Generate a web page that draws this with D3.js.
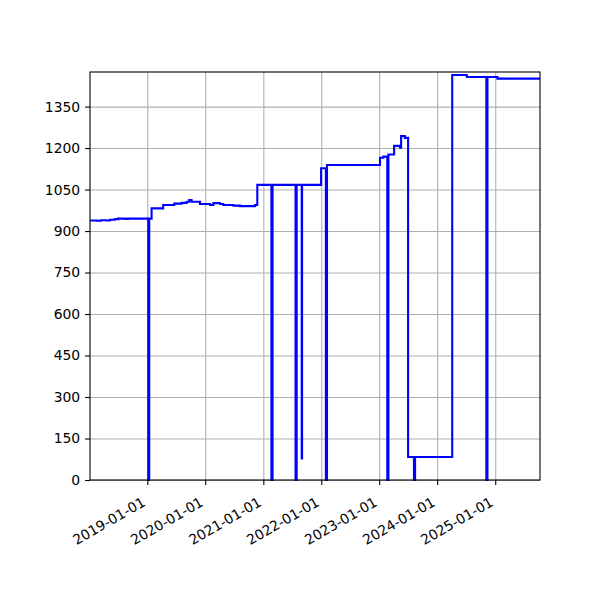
<!DOCTYPE html>
<html>
<head>
<meta charset="utf-8">
<script src="https://cdn.jsdelivr.net/npm/d3@7"></script>
<style>
  body { margin: 0; background: #fff; }
  svg text { font-family: "DejaVu Sans", sans-serif; font-size: 13.9px; fill: #000; }
  .grid line { stroke: #b0b0b0; stroke-width: 1.1; }
  .grid path { display: none; }
</style>
</head>
<body>
<div id="chart"></div>
<script>
// size of the picture and of the plot area
const width = 600, height = 600;
let padding = {top: 72, right: 60, bottom: 120, left: 90};

// series: each value holds until the next date (step after)
const dates = [
  "2018-01-05", "2018-02-20", "2018-03-15", "2018-04-20", "2018-05-10",
  "2018-06-10", "2018-07-01", "2018-08-15", "2018-09-01", "2019-01-07",
  "2019-01-13", "2019-01-28", "2019-04-11", "2019-06-20", "2019-08-05",
  "2019-09-06", "2019-09-22", "2019-10-07", "2019-11-29", "2020-01-31",
  "2020-02-21", "2020-04-03", "2020-04-24", "2020-06-26", "2020-08-07",
  "2020-11-10", "2020-11-24", "2021-02-21", "2021-02-28", "2021-07-23",
  "2021-07-30", "2021-08-31", "2021-09-02", "2021-12-31", "2022-01-30",
  "2022-02-06", "2023-01-06", "2023-01-27", "2023-02-21", "2023-02-28",
  "2023-04-05", "2023-05-12", "2023-05-19", "2023-06-12", "2023-07-02",
  "2023-08-08", "2023-08-15", "2024-04-05", "2024-07-06", "2024-11-06",
  "2024-11-13", "2025-01-15", "2025-10-10"
];
const values = [
  938, 937, 939, 938, 941,
  943, 945, 944, 945, 0,
  945, 982, 994, 999, 1002,
  1006, 1012, 1006, 998, 994,
  1001, 998, 994, 992, 990,
  994, 1067, 0, 1067, 0,
  1067, 78, 1067, 1127, 0,
  1139, 1165, 1169, 0, 1177,
  1208, 1201, 1243, 1237, 83,
  0, 83, 1464, 1457, 0,
  1457, 1451, 1451
];

// axis ticks
const yTicks = [0, 150, 300, 450, 600, 750, 900, 1050, 1200, 1350];
const xTickLabels = ["2019-01-01", "2020-01-01", "2021-01-01", "2022-01-01",
                     "2023-01-01", "2024-01-01", "2025-01-01"];

const parse = d3.utcParse("%Y-%m-%d");
const data = dates.map((d, i) => ({date: parse(d), value: values[i]}));

const svg = d3.select("#chart").append("svg")
  .attr("width", width)
  .attr("height", height);

let x = d3.scaleUtc()
  .domain(d3.extent(data, d => d.date))
  .range([padding.left, width - padding.right]);

let y = d3.scaleLinear()
  .domain([0, 1475])
  .range([height - padding.bottom, padding.top]);

// gridlines
svg.append("g")
  .attr("class", "grid")
  .attr("transform", "translate(0," + (height - padding.bottom) + ")")
  .call(d3.axisBottom(x)
    .tickValues(xTickLabels.map(parse))
    .tickSize(-(height - padding.top - padding.bottom))
    .tickFormat(""));

svg.append("g")
  .attr("class", "grid")
  .attr("transform", "translate(" + padding.left + ",0)")
  .call(d3.axisLeft(y)
    .tickValues(yTicks)
    .tickSize(-(width - padding.left - padding.right))
    .tickFormat(""));

// the line
svg.append("path")
  .datum(data)
  .attr("fill", "none")
  .attr("stroke", "#0000ff")
  .attr("stroke-width", 2.1)
  .attr("d", d3.line()
    .curve(d3.curveStepAfter)
    .x(d => x(d.date))
    .y(d => y(d.value)));

// frame
svg.append("rect")
  .attr("x", padding.left)
  .attr("y", padding.top)
  .attr("width", width - padding.left - padding.right)
  .attr("height", height - padding.top - padding.bottom)
  .attr("fill", "none")
  .attr("stroke", "#000")
  .attr("stroke-width", 1.1);

// Y axis
let yAxis = svg.append("g")
  .attr("transform", "translate(" + padding.left + ",0)")
  .call(d3.axisLeft(y).tickValues(yTicks).tickFormat(d3.format("d"))
    .tickSize(4.9).tickPadding(4.9));
yAxis.select(".domain").remove();
yAxis.selectAll(".tick line").attr("stroke", "#000").attr("stroke-width", 1.1);
yAxis.selectAll("text").style("font-size", "13.9px").attr("fill", "#000");

// X axis with rotated date labels
let xAxis = svg.append("g")
  .attr("transform", "translate(0," + (height - padding.bottom) + ")")
  .call(d3.axisBottom(x)
    .tickValues(xTickLabels.map(parse))
    .tickFormat((d, i) => xTickLabels[i])
    .tickSize(4.9));
xAxis.select(".domain").remove();
xAxis.selectAll(".tick line").attr("stroke", "#000").attr("stroke-width", 1.1);
xAxis.selectAll("text")
  .style("font-size", "13.9px")
  .attr("fill", "#000")
  .attr("text-anchor", "end")
  .attr("y", 0)
  .attr("dy", 0)
  .attr("transform", "translate(-1.5,25) rotate(-30)");
</script>
</body>
</html>
